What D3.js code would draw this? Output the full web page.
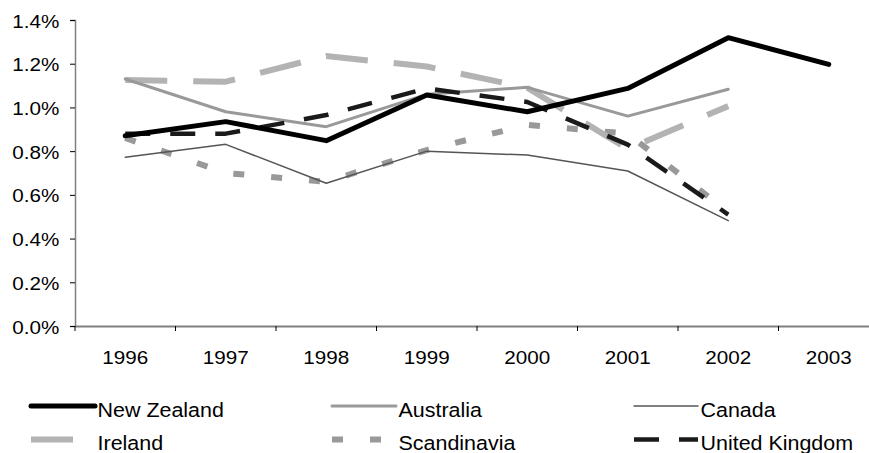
<!DOCTYPE html>
<html>
<head>
<meta charset="utf-8">
<script src="https://cdn.jsdelivr.net/npm/d3@7"></script>
<style>
    body { margin: 0; background: #fff; }
    text { font-family: "Liberation Sans", Arial, sans-serif; fill: #000; }
</style>
</head>
<body>
<script>
//category labels
var years = ["1996", "1997", "1998", "1999", "2000", "2001", "2002", "2003"];

//series values (percent)
var newZealand  = [0.87, 0.935, 0.848, 1.057, 0.98, 1.087, 1.319, 1.197];
var australia   = [1.13, 0.98, 0.912, 1.06, 1.092, 0.96, 1.083, null];
var canada      = [0.772, 0.831, 0.653, 0.80, 0.782, 0.709, 0.482, null];
var ireland     = [1.125, 1.118, 1.235, 1.187, 1.09, 0.81, 1.006, null];
var scandinavia = [0.86, 0.70, 0.66, 0.805, 0.92, 0.88, 0.52, null];
var uk          = [0.88, 0.88, 0.965, 1.087, 1.025, 0.83, 0.51, null];

//y tick values
var yTicks = [0, 0.2, 0.4, 0.6, 0.8, 1.0, 1.2, 1.4];

var seriesNames = ["New Zealand", "Australia", "Canada", "Ireland", "Scandinavia", "United Kingdom"];

window.onload = function(){

    var w = 869, h = 453;

    var svg = d3.select("body")
        .append("svg")
        .attr("width", w)
        .attr("height", h);

    //series styles in legend order
    var styles = [
        { values: newZealand,  color: "#000000", width: 5,   dash: null },
        { values: australia,   color: "#999999", width: 3,   dash: null },
        { values: canada,      color: "#555555", width: 1.5, dash: null },
        { values: ireland,     color: "#b3b3b3", width: 6,   dash: "42,26" },
        { values: scandinavia, color: "#999999", width: 6,   dash: "11,27" },
        { values: uk,          color: "#1a1a1a", width: 4.5, dash: "25,20" }
    ];

    //scales
    var x = d3.scaleBand()
        .domain(years)
        .range([75, 879]);

    var y = d3.scaleLinear()
        .domain([0, 1.4])
        .range([326, 20]);

    var cx = function(i){ return x(years[i]) + x.bandwidth() / 2; };

    //y axis
    var yAxis = d3.axisLeft(y)
        .tickValues(yTicks)
        .tickSize(5)
        .tickPadding(0)
        .tickFormat(function(d){ return d3.format(".1f")(d) + "%"; });

    var yg = svg.append("g")
        .attr("transform", "translate(75,0)")
        .call(yAxis);

    yg.select(".domain").attr("stroke", "#808080").attr("stroke-width", 1.5);
    yg.selectAll(".tick line").attr("stroke", "#000");
    yg.selectAll(".tick text")
        .attr("x", -13.3)
        .attr("dy", "0.4em")
        .attr("transform", "scale(1.18,1)")
        .style("font-size", "17.5px");

    //x axis (labels at category centers)
    var xAxis = d3.axisBottom(x)
        .tickSize(0)
        .tickSizeOuter(0);

    var xg = svg.append("g")
        .attr("transform", "translate(0,326)")
        .call(xAxis);

    xg.select(".domain").attr("stroke", "#808080").attr("stroke-width", 2);
    xg.selectAll(".tick text")
        .attr("y", 38)
        .attr("dy", null)
        .attr("text-anchor", "middle")
        .attr("transform", "scale(1.18,1)")
        .style("font-size", "17.5px");

    //x tick marks between categories
    var edges = years.map(function(d){ return x(d); }).concat([x.range()[1]]);
    svg.selectAll(".xtick")
        .data(edges)
        .enter()
        .append("line")
        .attr("class", "xtick")
        .attr("x1", function(d){ return d; })
        .attr("x2", function(d){ return d; })
        .attr("y1", 326)
        .attr("y2", 331)
        .attr("stroke", "#000");

    //line generator
    var line = d3.line()
        .defined(function(d){ return d != null; })
        .x(function(d, i){ return cx(i); })
        .y(function(d){ return y(d); });

    //draw so New Zealand sits on top
    var drawOrder = [4, 3, 2, 1, 5, 0];
    drawOrder.forEach(function(k){
        var s = styles[k];
        svg.append("path")
            .datum(s.values)
            .attr("d", line)
            .attr("fill", "none")
            .attr("stroke", s.color)
            .attr("stroke-width", s.width)
            .attr("stroke-dasharray", s.dash)
            .attr("stroke-linejoin", "round")
            .attr("stroke-linecap", s.dash ? "butt" : "round");
    });

    //legend
    var colX = [31, 332, 634];
    var rowY = [406, 439.5];
    var legend = svg.selectAll(".legend")
        .data(styles)
        .enter()
        .append("g")
        .attr("class", "legend")
        .attr("transform", function(d, i){
            return "translate(" + colX[i % 3] + "," + rowY[Math.floor(i / 3)] + ")";
        });

    legend.append("line")
        .attr("x1", 0)
        .attr("x2", 64)
        .attr("y1", 0)
        .attr("y2", 0)
        .attr("stroke", function(d){ return d.color; })
        .attr("stroke-width", function(d){ return d.width; })
        .attr("stroke-dasharray", function(d){ return d.dash; })
        .attr("stroke-linecap", function(d){ return d.dash ? "butt" : "round"; });

    legend.append("text")
        .attr("x", 60.5)
        .attr("y", 4)
        .attr("dy", "0.35em")
        .attr("transform", "scale(1.1,1)")
        .style("font-size", "19.5px")
        .text(function(d, i){ return seriesNames[i]; });
};
</script>
</body>
</html>
